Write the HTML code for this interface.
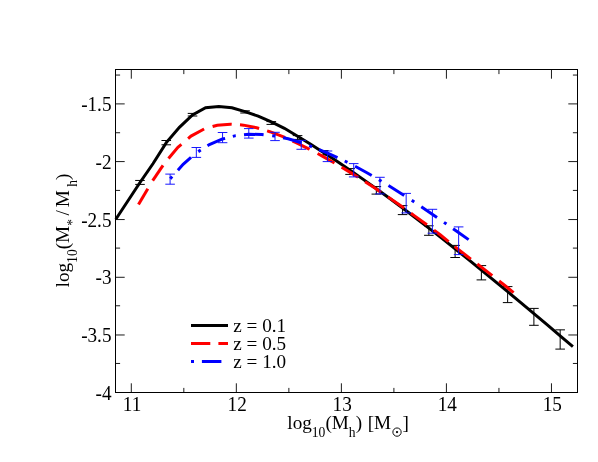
<!DOCTYPE html><html><head><meta charset="utf-8"><title>plot</title><style>html,body{margin:0;padding:0;background:#fff}body{width:598px;height:462px;overflow:hidden}svg{will-change:transform}</style></head><body><svg width="598" height="462" viewBox="0 0 598 462" style="display:block">
<rect width="598" height="462" fill="#fff"/>
<polyline points="115.80,219.30 140.00,182.50 153.10,163.50 166.30,142.60 179.40,127.30 192.50,114.90 205.60,107.80 218.80,106.40 231.90,107.70 245.00,111.60 258.20,116.20 271.30,121.90 284.40,128.30 297.60,136.20 310.69,144.30 323.82,152.71 336.95,161.36 350.08,170.25 363.21,179.37 376.34,188.71 389.47,198.26 402.60,208.01 415.73,217.95 428.86,228.08 441.99,238.37 455.12,248.80 468.25,259.37 481.38,270.04 494.51,280.82 507.64,291.67 520.77,302.60 533.90,313.60 547.03,324.66 560.16,335.79 572.90,346.64" fill="none" stroke="#000" stroke-width="3.0" stroke-linejoin="miter"/>
<path d="M140.00,180.45V184.40M135.20,180.45H144.80M135.20,184.40H144.80" stroke="#000" stroke-width="1.0" fill="none"/>
<path d="M166.26,140.50V144.80M161.46,140.50H171.06M161.46,144.80H171.06" stroke="#000" stroke-width="1.0" fill="none"/>
<path d="M192.52,113.40V116.00M187.72,113.40H197.32M187.72,116.00H197.32" stroke="#000" stroke-width="1.0" fill="none"/>
<path d="M245.04,110.80V113.00M240.24,110.80H249.84M240.24,113.00H249.84" stroke="#000" stroke-width="1.0" fill="none"/>
<path d="M271.30,121.60V124.40M266.50,121.60H276.10M266.50,124.40H276.10" stroke="#000" stroke-width="1.0" fill="none"/>
<path d="M297.56,135.60V139.40M292.76,135.60H302.36M292.76,139.40H302.36" stroke="#000" stroke-width="1.0" fill="none"/>
<path d="M323.82,150.60V155.00M319.02,150.60H328.62M319.02,155.00H328.62" stroke="#000" stroke-width="1.0" fill="none"/>
<path d="M350.08,168.60V174.40M345.28,168.60H354.88M345.28,174.40H354.88" stroke="#000" stroke-width="1.0" fill="none"/>
<path d="M376.34,186.60V194.10M371.54,186.60H381.14M371.54,194.10H381.14" stroke="#000" stroke-width="1.0" fill="none"/>
<path d="M402.60,205.60V214.60M397.80,205.60H407.40M397.80,214.60H407.40" stroke="#000" stroke-width="1.0" fill="none"/>
<path d="M428.86,225.80V235.30M424.06,225.80H433.66M424.06,235.30H433.66" stroke="#000" stroke-width="1.0" fill="none"/>
<path d="M455.12,245.40V257.50M450.32,245.40H459.92M450.32,257.50H459.92" stroke="#000" stroke-width="1.0" fill="none"/>
<path d="M481.38,265.60V279.90M476.58,265.60H486.18M476.58,279.90H486.18" stroke="#000" stroke-width="1.0" fill="none"/>
<path d="M507.64,286.60V302.60M502.84,286.60H512.44M502.84,302.60H512.44" stroke="#000" stroke-width="1.0" fill="none"/>
<path d="M533.90,308.40V325.30M529.10,308.40H538.70M529.10,325.30H538.70" stroke="#000" stroke-width="1.0" fill="none"/>
<path d="M560.16,329.85V349.10M555.36,329.85H564.96M555.36,349.10H564.96" stroke="#000" stroke-width="1.0" fill="none"/>
<polyline points="138.50,204.54 147.80,188.68" fill="none" stroke="#f00" stroke-width="3.0"/>
<polyline points="152.70,180.59 163.00,165.46" fill="none" stroke="#f00" stroke-width="3.0"/>
<polyline points="168.50,158.45 177.89,147.33 181.40,144.33" fill="none" stroke="#f00" stroke-width="3.0"/>
<polyline points="188.10,138.60 191.02,136.11 204.10,128.99" fill="none" stroke="#f00" stroke-width="3.0"/>
<polyline points="212.60,126.55 217.28,125.22 230.41,124.17 231.70,124.26" fill="none" stroke="#f00" stroke-width="3.0"/>
<polyline points="240.00,124.87 243.54,125.13 256.67,127.73 259.10,128.46" fill="none" stroke="#f00" stroke-width="3.0"/>
<polyline points="267.10,130.87 269.80,131.69 282.93,136.71 285.20,137.72" fill="none" stroke="#f00" stroke-width="3.0"/>
<polyline points="292.60,141.01 296.06,142.55 309.19,149.04 309.60,149.26" fill="none" stroke="#f00" stroke-width="3.0"/>
<polyline points="317.60,153.55 322.32,156.08 334.50,163.01" fill="none" stroke="#f00" stroke-width="3.0"/>
<polyline points="341.60,167.22 348.58,171.38 358.10,177.30" fill="none" stroke="#f00" stroke-width="3.0"/>
<polyline points="365.10,181.74 374.84,188.03 381.00,192.17" fill="none" stroke="#f00" stroke-width="3.0"/>
<polyline points="388.00,196.86 401.10,205.94 404.10,208.15" fill="none" stroke="#f00" stroke-width="3.0"/>
<polyline points="411.00,213.22 414.23,215.59 426.90,224.80" fill="none" stroke="#f00" stroke-width="3.0"/>
<polyline points="434.00,230.11 440.49,234.98 448.60,241.61" fill="none" stroke="#f00" stroke-width="3.0"/>
<polyline points="454.80,246.64 466.75,256.00 470.90,259.14" fill="none" stroke="#f00" stroke-width="3.0"/>
<polyline points="477.30,263.98 479.88,265.93 492.30,275.64" fill="none" stroke="#f00" stroke-width="3.0"/>
<polyline points="499.10,280.97 506.14,286.49 513.60,292.69" fill="none" stroke="#f00" stroke-width="3.0"/>
<polyline points="177.90,170.14 183.13,164.24 191.00,157.44" fill="none" stroke="#00f" stroke-width="3.0"/>
<polyline points="207.50,145.79 209.39,144.59 222.52,138.98 225.10,138.33" fill="none" stroke="#00f" stroke-width="3.0"/>
<polyline points="244.00,134.78 248.78,134.27 261.91,134.49 263.60,134.69" fill="none" stroke="#00f" stroke-width="3.0"/>
<polyline points="283.10,137.77 288.17,138.83 301.30,142.69 301.60,142.80" fill="none" stroke="#00f" stroke-width="3.0"/>
<polyline points="319.10,149.61 327.56,153.13 337.50,157.56" fill="none" stroke="#00f" stroke-width="3.0"/>
<polyline points="355.10,166.23 366.95,172.75 371.70,175.52" fill="none" stroke="#00f" stroke-width="3.0"/>
<polyline points="388.50,185.55 393.21,188.42 404.20,195.42" fill="none" stroke="#00f" stroke-width="3.0"/>
<polyline points="421.30,206.74 432.60,214.46 437.00,217.52" fill="none" stroke="#00f" stroke-width="3.0"/>
<polyline points="453.10,228.76 458.86,232.80 468.60,239.62" fill="none" stroke="#00f" stroke-width="3.0"/>
<polyline points="170.26,178.74 172.14,176.62" fill="none" stroke="#00f" stroke-width="3.0"/>
<polyline points="198.26,151.62 200.74,150.06" fill="none" stroke="#00f" stroke-width="3.0"/>
<polyline points="232.83,136.37 235.65,135.66 235.77,135.65" fill="none" stroke="#00f" stroke-width="3.0"/>
<polyline points="272.22,135.74 275.04,136.08 275.18,136.11" fill="none" stroke="#00f" stroke-width="3.0"/>
<polyline points="309.20,145.68 312.00,146.74" fill="none" stroke="#00f" stroke-width="3.0"/>
<polyline points="344.75,161.01 347.45,162.35" fill="none" stroke="#00f" stroke-width="3.0"/>
<polyline points="378.91,179.73 380.08,180.42 381.49,181.27" fill="none" stroke="#00f" stroke-width="3.0"/>
<polyline points="411.75,200.37 414.25,202.03" fill="none" stroke="#00f" stroke-width="3.0"/>
<polyline points="443.97,222.37 445.73,223.60 446.43,224.09" fill="none" stroke="#00f" stroke-width="3.0"/>
<path d="M170.10,174.10V184.20M165.30,174.10H174.90M165.30,184.20H174.90" stroke="#0c0cff" stroke-width="0.95" fill="none"/>
<path d="M196.33,147.50V157.40M191.53,147.50H201.13M191.53,157.40H201.13" stroke="#0c0cff" stroke-width="0.95" fill="none"/>
<path d="M222.56,132.50V142.70M217.76,132.50H227.36M217.76,142.70H227.36" stroke="#0c0cff" stroke-width="0.95" fill="none"/>
<path d="M248.79,128.60V138.10M243.99,128.60H253.59M243.99,138.10H253.59" stroke="#0c0cff" stroke-width="0.95" fill="none"/>
<path d="M275.02,132.30V140.60M270.22,132.30H279.82M270.22,140.60H279.82" stroke="#0c0cff" stroke-width="0.95" fill="none"/>
<path d="M301.25,140.40V149.30M296.45,140.40H306.05M296.45,149.30H306.05" stroke="#0c0cff" stroke-width="0.95" fill="none"/>
<path d="M327.48,151.00V161.60M322.68,151.00H332.28M322.68,161.60H332.28" stroke="#0c0cff" stroke-width="0.95" fill="none"/>
<path d="M353.71,163.60V176.90M348.91,163.60H358.51M348.91,176.90H358.51" stroke="#0c0cff" stroke-width="0.95" fill="none"/>
<path d="M379.94,177.30V193.90M375.14,177.30H384.74M375.14,193.90H384.74" stroke="#0c0cff" stroke-width="0.95" fill="none"/>
<path d="M406.17,193.40V212.90M401.37,193.40H410.97M401.37,212.90H410.97" stroke="#0c0cff" stroke-width="0.95" fill="none"/>
<path d="M432.40,209.30V233.20M427.60,209.30H437.20M427.60,233.20H437.20" stroke="#0c0cff" stroke-width="0.95" fill="none"/>
<path d="M458.63,226.90V254.60M453.83,226.90H463.43M453.83,254.60H463.43" stroke="#0c0cff" stroke-width="0.95" fill="none"/>
<rect x="115.5" y="69.5" width="462.0" height="323.0" fill="none" stroke="#000" stroke-width="1.0"/>
<path d="M131.30,392.5v-9.2M131.30,69.5v9.2M236.34,392.5v-9.2M236.34,69.5v9.2M341.38,392.5v-9.2M341.38,69.5v9.2M446.42,392.5v-9.2M446.42,69.5v9.2M551.46,392.5v-9.2M551.46,69.5v9.2M183.82,392.5v-4.6M183.82,69.5v4.6M288.86,392.5v-4.6M288.86,69.5v4.6M393.90,392.5v-4.6M393.90,69.5v4.6M498.94,392.5v-4.6M498.94,69.5v4.6M115.5,392.50h9.2M577.5,392.50h-9.2M115.5,334.97h9.2M577.5,334.97h-9.2M115.5,277.29h9.2M577.5,277.29h-9.2M115.5,219.56h9.2M577.5,219.56h-9.2M115.5,161.58h9.2M577.5,161.58h-9.2M115.5,103.90h9.2M577.5,103.90h-9.2M115.5,363.46h4.6M577.5,363.46h-4.6M115.5,305.78h4.6M577.5,305.78h-4.6M115.5,248.10h4.6M577.5,248.10h-4.6M115.5,190.42h4.6M577.5,190.42h-4.6M115.5,132.74h4.6M577.5,132.74h-4.6M115.5,75.06h4.6M577.5,75.06h-4.6" stroke="#000" stroke-width="0.9" fill="none"/>
<g font-family="Liberation Serif, serif" font-size="19.2" fill="#000">
<text transform="translate(132.10,410.8) scale(1,1.055)" text-anchor="middle">11</text>
<text transform="translate(237.14,410.8) scale(1,1.055)" text-anchor="middle">12</text>
<text transform="translate(342.18,410.8) scale(1,1.055)" text-anchor="middle">13</text>
<text transform="translate(447.22,410.8) scale(1,1.055)" text-anchor="middle">14</text>
<text transform="translate(552.26,410.8) scale(1,1.055)" text-anchor="middle">15</text>
<text transform="translate(111.5,399.50) scale(1,1.055)" text-anchor="end">-4</text>
<text transform="translate(111.5,342.32) scale(1,1.055)" text-anchor="end">-3.5</text>
<text transform="translate(111.5,283.64) scale(1,1.055)" text-anchor="end">-3</text>
<text transform="translate(111.5,226.66) scale(1,1.055)" text-anchor="end">-2.5</text>
<text transform="translate(111.5,168.88) scale(1,1.055)" text-anchor="end">-2</text>
<text transform="translate(111.5,110.60) scale(1,1.055)" text-anchor="end">-1.5</text>
<text x="287.30" y="428.80">log</text><text x="311.83" y="437.25" font-size="13.57">10</text><text x="325.41" y="428.80">(M</text><text x="348.87" y="437.25" font-size="13.57">h</text><text x="355.66" y="428.80">) </text><text x="367.66" y="428.80">[M</text><circle cx="397.02" cy="432.10" r="4.15" fill="none" stroke="#000" stroke-width="0.95"/><circle cx="397.02" cy="432.10" r="1.15"/><text x="402.42" y="428.80">]</text>
<g transform="translate(68.6,287.4) rotate(-90)"><text x="0.00" y="0.00">log</text><text x="24.53" y="8.45" font-size="13.57">10</text><text x="38.11" y="0.00">(M</text><text x="61.57" y="8.45" font-size="13.57">*</text><text x="71.86" y="0.00"> /</text><text x="80.20" y="0.00"> M</text><text x="100.57" y="8.45" font-size="13.57">h</text><text x="107.36" y="0.00">)</text></g>
<text transform="translate(233.3,331.60) scale(1,1.035)">z = 0.1</text>
<text transform="translate(233.3,349.75) scale(1,1.035)">z = 0.5</text>
<text transform="translate(233.3,367.90) scale(1,1.035)">z = 1.0</text>
</g>
<line x1="191" x2="228" y1="325.5" y2="325.5" stroke="#000" stroke-width="3.0"/>
<line x1="191" x2="228" y1="343.5" y2="343.5" stroke="#f00" stroke-width="3.0" stroke-dasharray="19.3 8.1"/>
<line x1="191" x2="228" y1="361.5" y2="361.5" stroke="#00f" stroke-width="3.0" stroke-dasharray="3.0 7.9 19.5 8"/>
</svg></body></html>
